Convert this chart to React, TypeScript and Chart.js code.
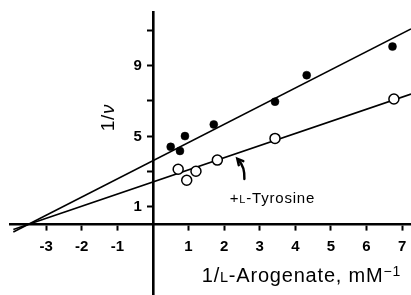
import React, { useEffect, useRef } from "react";
import { Chart, registerables } from "chart.js";

Chart.register(...registerables);

// Lineweaver-Burk data (1/[L-arogenate], 1/v)
const controlX = [0.5, 0.76, 0.9, 1.71, 3.43, 4.32, 6.73];
const controlY = [4.39, 4.16, 5.0, 5.66, 6.95, 8.45, 10.07];
const tyrosineX = [0.71, 0.95, 1.21, 1.81, 3.43, 6.77];
const tyrosineY = [3.12, 2.5, 3.01, 3.64, 4.87, 7.1];

// fitted lines (converging at x = -3.5)
const fitX = [-3.92, 7.25];
const controlFitY = [-0.43, 11.07];
const tyrosineFitY = [-0.29, 7.38];

const xTickValues = [-3, -2, -1, 1, 2, 3, 4, 5, 6, 7];
const yTickValues = [1, 3, 5, 7, 9, 11];
const yLabeledTicks = [1, 5, 9];

const FONT = "'Liberation Sans', Arial, Helvetica, sans-serif";

const zip = (xs: number[], ys: number[]) => xs.map((x, i) => ({ x, y: ys[i] }));

const annotations = {
  id: "annotations",
  afterDraw(chart: any) {
    const ctx: CanvasRenderingContext2D = chart.ctx;
    const xs = chart.scales.x;
    const ys = chart.scales.y;
    const area = chart.chartArea;
    ctx.save();
    ctx.fillStyle = "#000";
    ctx.strokeStyle = "#000";

    // Y tick labels (left of the axis)
    const axisX = xs.getPixelForValue(0);
    ctx.textAlign = "right";
    ctx.textBaseline = "middle";
    ctx.font = `bold 15px ${FONT}`;
    for (const v of yLabeledTicks) {
      ctx.fillText(String(v), axisX - 11, ys.getPixelForValue(v) + 0.5);
    }

    ctx.textBaseline = "alphabetic";
    ctx.textAlign = "left";
    (ctx as any).letterSpacing = "0.8px";

    // X axis title: 1/L-Arogenate, mM^-1 (small-cap L, superscript -1)
    const segs: [string, string, number][] = [
      ["1/", `20px ${FONT}`, 0],
      ["L", `14.5px ${FONT}`, 0],
      ["-Arogenate, mM", `20px ${FONT}`, 0],
      ["\u22121", `14px ${FONT}`, -6],
    ];
    let total = 0;
    for (const [t, f] of segs) {
      ctx.font = f;
      total += ctx.measureText(t).width;
    }
    let x = area.right - 10 - total;
    const base = 281.5;
    for (const [t, f, dy] of segs) {
      ctx.font = f;
      ctx.fillText(t, x, base + dy);
      x += ctx.measureText(t).width;
    }

    // Y axis title: 1/ν rotated
    ctx.save();
    ctx.translate(114, 117.5);
    ctx.rotate(-Math.PI / 2);
    ctx.textAlign = "left";
    ctx.font = `19px ${FONT}`;
    const w1 = ctx.measureText("1/").width;
    ctx.font = `italic 19px ${FONT}`;
    const w2 = ctx.measureText("\u03bd").width;
    let yx = -(w1 + w2) / 2;
    ctx.font = `19px ${FONT}`;
    ctx.fillText("1/", yx, 0);
    yx += w1;
    ctx.font = `italic 19px ${FONT}`;
    ctx.fillText("\u03bd", yx, 0);
    ctx.restore();

    // "+L-Tyrosine" label
    const tx0 = xs.getPixelForValue(2.16);
    const ty0 = ys.getPixelForValue(1.23);
    const tsegs: [string, string][] = [
      ["+", `15px ${FONT}`],
      ["L", `11px ${FONT}`],
      ["-Tyrosine", `15px ${FONT}`],
    ];
    let tx = tx0;
    for (const [t, f] of tsegs) {
      ctx.font = f;
      ctx.fillText(t, tx, ty0);
      tx += ctx.measureText(t).width;
    }

    // curved arrow pointing to the +L-Tyrosine line
    const tipX = xs.getPixelForValue(2.37);
    const tipY = ys.getPixelForValue(3.72);
    const tailX = xs.getPixelForValue(2.57);
    const tailY = ys.getPixelForValue(2.57);
    ctx.lineWidth = 2.4;
    ctx.lineCap = "round";
    ctx.beginPath();
    ctx.moveTo(tailX, tailY);
    ctx.quadraticCurveTo(tailX + 0.5, tipY + 8, tipX + 1.2, tipY + 1.5);
    ctx.stroke();
    ctx.beginPath();
    ctx.moveTo(tipX + 6, tipY + 2.5);
    ctx.lineTo(tipX, tipY);
    ctx.lineTo(tipX + 1.5, tipY + 6.5);
    ctx.stroke();
    ctx.restore();
  },
};

export default function App() {
  const ref = useRef<HTMLCanvasElement | null>(null);

  useEffect(() => {
    if (!ref.current) return;
    const zeroPad = (s: any) => {
      s.paddingTop = 0;
      s.paddingBottom = 0;
      s.paddingLeft = 0;
      s.paddingRight = 0;
    };
    const chart = new Chart(ref.current, {
      type: "scatter",
      data: {
        datasets: [
          {
            type: "line",
            data: zip(fitX, controlFitY),
            borderColor: "#000",
            borderWidth: 1.6,
            pointRadius: 0,
            pointHoverRadius: 0,
            fill: false,
            order: 3,
          } as any,
          {
            type: "line",
            data: zip(fitX, tyrosineFitY),
            borderColor: "#000",
            borderWidth: 1.6,
            pointRadius: 0,
            pointHoverRadius: 0,
            fill: false,
            order: 3,
          } as any,
          {
            data: zip(tyrosineX, tyrosineY),
            pointRadius: 5,
            pointBackgroundColor: "#fff",
            pointBorderColor: "#000",
            pointBorderWidth: 1.5,
            order: 1,
          },
          {
            data: zip(controlX, controlY),
            pointRadius: 4,
            pointBackgroundColor: "#000",
            pointBorderColor: "#000",
            pointBorderWidth: 0.5,
            order: 1,
          },
        ],
      },
      options: {
        animation: false,
        responsive: false,
        devicePixelRatio: 1,
        layout: { autoPadding: false, padding: { left: 10.5, top: 12.5, right: 0, bottom: 0 } },
        plugins: { legend: { display: false }, tooltip: { enabled: false } },
        scales: {
          x: {
            type: "linear",
            min: -4,
            max: 7.25,
            position: { y: 0 } as any,
            afterBuildTicks: (s: any) => {
              s.ticks = xTickValues.map((v) => ({ value: v }));
            },
            afterFit: zeroPad,
            ticks: {
              color: "#000",
              font: { family: FONT, size: 15, weight: "bold" },
              padding: 8,
              autoSkip: false,
              maxRotation: 0,
              callback: (v: any) => String(v),
            },
            grid: {
              drawOnChartArea: false,
              drawTicks: true,
              tickLength: 5,
              tickWidth: 2,
              color: "#000",
            },
            border: { display: true, color: "#000", width: 2.6 },
          },
          y: {
            type: "linear",
            min: -4,
            max: 12,
            position: { x: 0 } as any,
            afterBuildTicks: (s: any) => {
              s.ticks = yTickValues.map((v) => ({ value: v }));
            },
            afterFit: zeroPad,
            ticks: { display: false, autoSkip: false },
            grid: {
              drawOnChartArea: false,
              drawTicks: true,
              tickLength: 5,
              tickWidth: 2,
              color: "#000",
            },
            border: { display: true, color: "#000", width: 2.6 },
          },
        },
      },
      plugins: [annotations],
    });
    return () => chart.destroy();
  }, []);

  return (
    <div style={{ position: "fixed", left: 0, top: 0, width: 411, height: 295, background: "#fff" }}>
      <canvas ref={ref} width={411} height={295} />
    </div>
  );
}
